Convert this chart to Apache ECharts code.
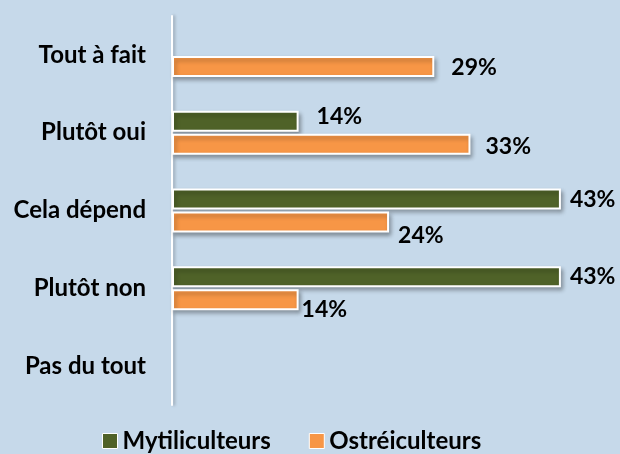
<!DOCTYPE html>
<html lang="fr">
<head>
    <meta charset="UTF-8">
    <title>Avis</title>
    <script src="https://cdn.jsdelivr.net/npm/echarts@6/dist/echarts.min.js"></script>
    <style>
        html, body { margin: 0; padding: 0; background: #c6d9ea; }
        #main { width: 620px; height: 454px; }
    </style>
</head>
<body>
<div id="main"></div>
<script type="text/javascript">
    // categories, top to bottom
    var categories = ['Tout à fait', 'Plutôt oui', 'Cela dépend', 'Plutôt non', 'Pas du tout'];
    var seriesNames = ['Mytiliculteurs', 'Ostréiculteurs'];
    // percentages (null = no bar)
    var mytiliculteurs = [null, 14, 43, 43, null];
    var ostreiculteurs = [29, 33, 24, 14, null];

    var font = 'Lato, "Open Sans", sans-serif';

    // label nudges to follow the original data label placement
    var greenOffsets = [[0, 0], [9, -5], [0, 1], [0, 0], [0, 0]];
    var orangeOffsets = [[8, 1], [6, 2], [0, 14], [-6, 10], [0, 0]];

    function buildData(values, offsets) {
        return values.map(function (v, i) {
            return {
                value: v,
                label: { offset: offsets[i] }
            };
        });
    }

    var myChart = echarts.init(document.getElementById('main'));

    var barStyle = function (color) {
        return {
            color: color,
            borderColor: '#ffffff',
            borderWidth: 2,
            shadowColor: 'rgba(0,0,0,0.3)',
            shadowBlur: 4,
            shadowOffsetX: 2,
            shadowOffsetY: 3
        };
    };
    var labelStyle = {
        show: true,
        position: 'right',
        distance: 9,
        formatter: '{c}%',
        color: '#000000',
        fontFamily: font,
        fontWeight: 'bold',
        fontSize: 23
    };

    var option = {
        backgroundColor: '#c6d9ea',
        animation: false,
        grid: { left: 172, right: 41, top: 16, bottom: 49, containLabel: false },
        xAxis: {
            type: 'value',
            min: 0,
            max: 45,
            show: false
        },
        yAxis: {
            type: 'category',
            inverse: true,
            data: categories,
            axisLine: { show: true, lineStyle: { color: '#ffffff', width: 2, shadowColor: 'rgba(0,0,0,0.25)', shadowBlur: 3, shadowOffsetX: 2 } },
            axisTick: { show: false },
            axisLabel: {
                color: '#000000',
                fontFamily: font,
                fontWeight: 'bold',
                fontSize: 24,
                margin: 26
            }
        },
        legend: {
            top: 424,
            left: 97,
            itemWidth: 15,
            itemHeight: 15,
            itemGap: 38,
            icon: 'rect',
            data: seriesNames,
            itemStyle: { borderColor: '#ffffff', borderWidth: 1 },
            textStyle: {
                color: '#000000',
                fontFamily: font,
                fontWeight: 'bold',
                fontSize: 24
            }
        },
        series: [
            {
                name: seriesNames[0],
                type: 'bar',
                barWidth: 21,
                barGap: '10%',
                data: buildData(mytiliculteurs, greenOffsets),
                itemStyle: barStyle('#4f6228'),
                label: labelStyle
            },
            {
                name: seriesNames[1],
                type: 'bar',
                barWidth: 21,
                data: buildData(ostreiculteurs, orangeOffsets),
                itemStyle: barStyle('#f79646'),
                label: labelStyle
            }
        ]
    };

    myChart.setOption(option);
</script>
</body>
</html>
